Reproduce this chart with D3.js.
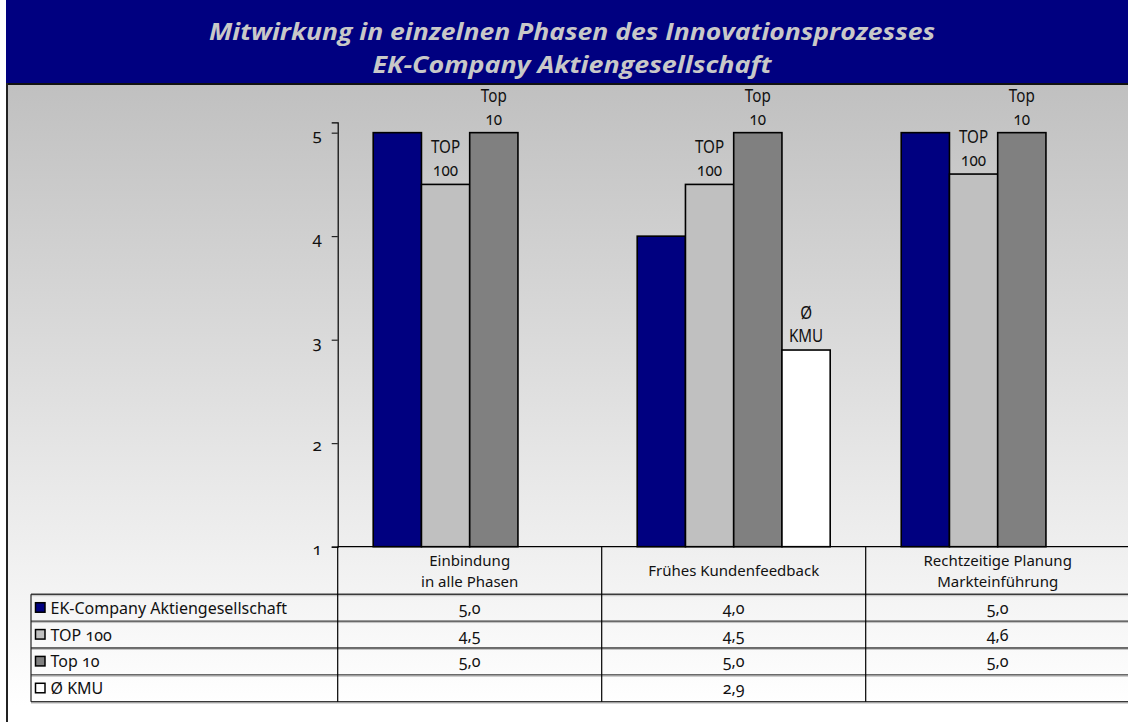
<!DOCTYPE html>
<html>
<head>
<meta charset="utf-8">
<script src="https://cdn.jsdelivr.net/npm/d3@7"></script>
<style>
  html, body { margin: 0; padding: 0; background: #fff; }
  svg { display: block; font-family: "Noto Sans", "Open Sans", sans-serif; }
  .num { font-variant-numeric: oldstyle-nums; font-feature-settings: "onum" 1; }
</style>
</head>
<body>
<svg id="chart" width="1128" height="722"></svg>
<script>
// Phases of the innovation process (categories), one column each
const categoryLines = [
  ["Einbindung", "in alle Phasen"],
  ["Frühes Kundenfeedback"],
  ["Rechtzeitige Planung", "Markteinführung"]
];
const categoryKeys = ["einbindung", "kundenfeedback", "planung"];

// Series names as listed in the data table
const seriesNames = ["EK-Company Aktiengesellschaft", "TOP 100", "Top 10", "Ø KMU"];
// Series names as written above the bars (none for the company itself)
const seriesBarLabels = [null, ["TOP", "100"], ["Top", "10"], ["Ø", "KMU"]];
const seriesColors = ["#000080", "#c0c0c0", "#808080", "#ffffff"];

// Scores per phase
const ekCompany = [5.0, 4.0, 5.0];
const top100    = [4.5, 4.5, 4.6];
const top10     = [5.0, 5.0, 5.0];
const kmu       = [null, 2.9, null];

const yTicks = [1, 2, 3, 4, 5];
const titleLines = [
  "Mitwirkung in einzelnen Phasen des Innovationsprozesses",
  "EK-Company Aktiengesellschaft"
];

const seriesValues = [ekCompany, top100, top10, kmu];
const fmt = v => v == null ? "" : d3.format(".1f")(v).replace(".", ",");

const svg = d3.select("#chart");
const W = 1128, H = 722;

// background gradient, grey at the top fading to white
const defs = svg.append("defs");
const grad = defs.append("linearGradient")
  .attr("id", "bg").attr("gradientUnits", "userSpaceOnUse")
  .attr("x1", 0).attr("y1", 84).attr("x2", 0).attr("y2", 705);
grad.append("stop").attr("offset", 0).attr("stop-color", "#c0c0c0");
grad.append("stop").attr("offset", 1).attr("stop-color", "#ffffff");

svg.append("rect").attr("x", 0).attr("y", 0).attr("width", W).attr("height", H).attr("fill", "#fff");
svg.append("rect").attr("x", 7).attr("y", 84).attr("width", W - 7).attr("height", 621).attr("fill", "url(#bg)");

// title banner
svg.append("rect").attr("x", 6).attr("y", 0).attr("width", W - 6).attr("height", 83).attr("fill", "#000080");
svg.append("line").attr("x1", 6).attr("x2", W).attr("y1", 84).attr("y2", 84)
  .attr("stroke", "#111").attr("stroke-width", 2);
svg.append("line").attr("x1", 7).attr("x2", 7).attr("y1", 83).attr("y2", H)
  .attr("stroke", "#222").attr("stroke-width", 2);

// condensed bold italic title: glyphs squeezed to the banner's line widths
const titleWidths = [726, 399];
titleLines.forEach((t, i) => {
  svg.append("text")
    .attr("x", 572).attr("y", 40 + i * 33)
    .attr("text-anchor", "middle")
    .attr("textLength", titleWidths[i])
    .attr("lengthAdjust", "spacingAndGlyphs")
    .style("font-family", "'Open Sans', 'Noto Sans', sans-serif")
    .style("font-weight", 700).style("font-style", "italic")
    .style("font-size", "24px")
    .attr("fill", "#c8c8c8")
    .text(t);
});

// scales
const x = d3.scaleBand().domain(categoryKeys).range([337.7, 1129.7]).padding(0);
const xs = d3.scaleBand().domain(d3.range(seriesNames.length))
  .range([0, x.bandwidth()]).paddingInner(0).paddingOuter(0.736);
const y = d3.scaleLinear().domain([1, 5.1]).range([546.7, 122.3]);

// y axis
const yAxis = svg.append("g").attr("transform", `translate(${x.range()[0]},0)`)
  .call(d3.axisLeft(y).tickValues(yTicks).tickFormat(d3.format("d")).tickSizeOuter(0).tickSize(6).tickPadding(10));
yAxis.select(".domain").attr("stroke", "#000").attr("stroke-width", 1.2);
yAxis.selectAll(".tick line").attr("stroke", "#000");
yAxis.selectAll(".tick text")
  .attr("class", "num")
  .style("font-family", "'Noto Sans', sans-serif")
  .style("font-size", "17px").attr("fill", "#111").attr("dy", "0.45em");

// bars
const barData = [];
seriesValues.forEach((vals, si) => {
  vals.forEach((v, ci) => {
    if (v != null) barData.push({ si, ci, v });
  });
});

const bars = svg.append("g");
bars.selectAll("rect").data(barData).join("rect")
  .attr("x", d => x(categoryKeys[d.ci]) + xs(d.si))
  .attr("width", xs.bandwidth())
  .attr("y", d => y(d.v))
  .attr("height", d => y(1) - y(d.v))
  .attr("fill", d => seriesColors[d.si])
  .attr("stroke", "#000").attr("stroke-width", 1.6);

// series names above bars
const lab = svg.append("g");
barData.filter(d => seriesBarLabels[d.si]).forEach(d => {
  const cx = x(categoryKeys[d.ci]) + xs(d.si) + xs.bandwidth() / 2;
  const lines = seriesBarLabels[d.si];
  lines.forEach((t, li) => {
    lab.append("text")
      .attr("class", "num")
      .attr("transform", `translate(${cx},${y(d.v) - 8 - (lines.length - 1 - li) * 23}) scale(0.95,1.12)`)
      .attr("text-anchor", "middle")
      .style("font-size", "16px")
      .attr("fill", "#111")
      .text(t);
  });
});

// baseline across the plot
svg.append("line").attr("x1", x.range()[0]).attr("x2", W).attr("y1", y(1)).attr("y2", y(1))
  .attr("stroke", "#000").attr("stroke-width", 1.2);

// data table
const rowY = d3.scaleBand().domain(d3.range(seriesNames.length)).range([594.3, 701.7]);
const tableLeft = 31;
const table = svg.append("g");

// category header row
categoryKeys.forEach((k, ci) => {
  const lines = categoryLines[ci];
  const cx = x(k) + x.bandwidth() / 2;
  const midY = (y(1) + rowY.range()[0]) / 2;
  lines.forEach((t, li) => {
    table.append("text")
      .attr("x", cx)
      .attr("y", midY + (li - (lines.length - 1) / 2) * 21 + 5.5)
      .attr("text-anchor", "middle")
      .style("font-size", "15px").attr("fill", "#111")
      .text(t);
  });
});

// horizontal row lines
[...rowY.domain().map(d => rowY(d)), rowY.range()[1]].forEach(yy => {
  table.append("line").attr("x1", tableLeft).attr("x2", W).attr("y1", yy).attr("y2", yy)
    .attr("stroke", "#3a3a3a").attr("stroke-width", 1.4);
  table.append("line").attr("x1", tableLeft).attr("x2", W).attr("y1", yy + 1.4).attr("y2", yy + 1.4)
    .attr("stroke", "#b0b0b0").attr("stroke-width", 0.8);
});
// vertical column lines
table.append("line").attr("x1", tableLeft).attr("x2", tableLeft)
  .attr("y1", rowY.range()[0]).attr("y2", rowY.range()[1]).attr("stroke", "#222").attr("stroke-width", 1.2);
categoryKeys.forEach((k, ci) => {
  const xx = x(k);
  table.append("line").attr("x1", xx).attr("x2", xx)
    .attr("y1", y(1)).attr("y2", rowY.range()[1]).attr("stroke", "#000").attr("stroke-width", 1.2);
});

// legend keys and series names
seriesNames.forEach((name, si) => {
  const cy = rowY(si) + rowY.bandwidth() / 2;
  table.append("rect").attr("x", 35.5).attr("y", cy - 5).attr("width", 9.5).attr("height", 9.5)
    .attr("fill", seriesColors[si]).attr("stroke", "#000").attr("stroke-width", 1.5);
  table.append("text").attr("class", "num")
    .attr("x", 50.5).attr("y", cy + 6)
    .style("font-size", "16px").attr("fill", "#111")
    .text(name);
  seriesValues[si].forEach((v, ci) => {
    table.append("text").attr("class", "num")
      .attr("x", x(categoryKeys[ci]) + x.bandwidth() / 2)
      .attr("y", cy + 6)
      .attr("text-anchor", "middle")
      .style("font-size", "16px").attr("fill", "#111")
      .text(fmt(v));
  });
});
</script>
</body>
</html>
